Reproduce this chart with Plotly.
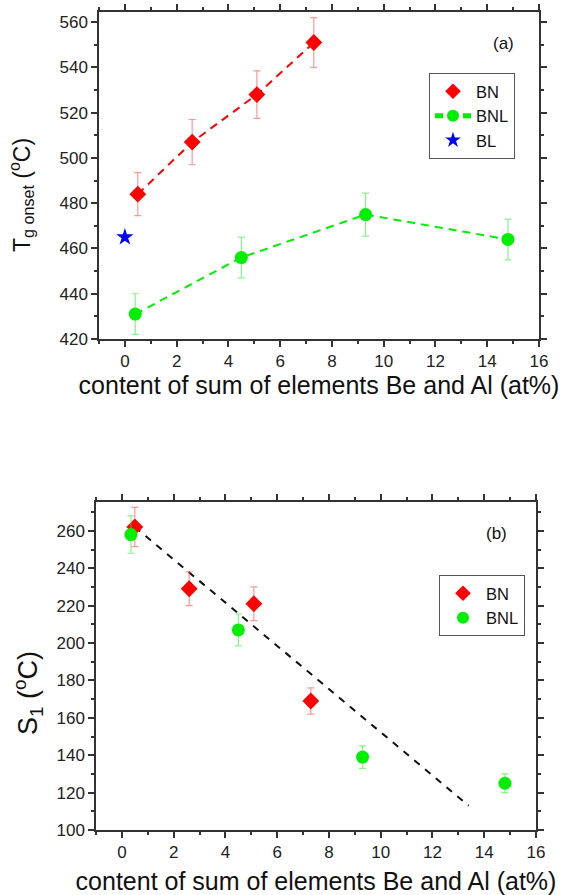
import plotly.graph_objects as go

# ---------------- data ----------------
# panel (a): Tg onset
x_bn_a = [0.5, 2.6, 5.1, 7.3]
y_bn_a = [484, 507, 528, 551]
e_bn_a = [9.5, 10, 10.5, 11]

x_bnl_a = [0.4, 4.5, 9.3, 14.8]
y_bnl_a = [431, 456, 475, 464]
e_bnl_a = [9, 9, 9.5, 9]

x_bl_a = [0]
y_bl_a = [465]

# panel (b): S1
x_bn_b = [0.5, 2.6, 5.1, 7.3]
y_bn_b = [262, 229, 221, 169]
e_bn_b = [10.5, 9, 9, 7]

x_bnl_b = [0.35, 4.5, 9.3, 14.8]
y_bnl_b = [258, 207, 139, 125]
e_bnl_b = [10, 8.5, 6, 5]

fit_x_b = [0.5, 13.4]
fit_y_b = [262, 113]

x_title = "content of sum of elements Be and Al (at%)"
y_title_a = "T<sub>g onset</sub> (<sup>o</sup>C)"
y_title_b = "S<sub>1</sub> (<sup>o</sup>C)"

# ---------------- style ----------------
FONT = "Liberation Sans, Arial, sans-serif"
RED = "#ff0000"
GREEN = "#00ee00"
BLUE = "#0000ff"
RED_ERR = "rgba(255,80,80,0.6)"
GREEN_ERR = "rgba(60,235,60,0.6)"
AX = "#333333"
TXT = "#111111"

fig = go.Figure()

# ---- panel (a)
fig.add_trace(go.Scatter(x=x_bn_a, y=y_bn_a, mode="lines", showlegend=False,
                         line=dict(color=RED, width=2, dash="8px,6px"),
                         xaxis="x", yaxis="y", hoverinfo="skip"))
fig.add_trace(go.Scatter(x=x_bn_a, y=y_bn_a, mode="markers", name="BN",
                         marker=dict(symbol="diamond", size=13, color=RED),
                         error_y=dict(type="data", array=e_bn_a, color=RED_ERR,
                                      thickness=1.2, width=3.5),
                         xaxis="x", yaxis="y", legend="legend"))
fig.add_trace(go.Scatter(x=x_bnl_a, y=y_bnl_a, mode="lines+markers", name="BNL",
                         line=dict(color=GREEN, width=2, dash="8px,6px"),
                         marker=dict(symbol="circle", size=13, color=GREEN),
                         error_y=dict(type="data", array=e_bnl_a, color=GREEN_ERR,
                                      thickness=1.2, width=3.5),
                         xaxis="x", yaxis="y", legend="legend"))
fig.add_trace(go.Scatter(x=x_bl_a, y=y_bl_a, mode="markers", name="BL",
                         marker=dict(symbol="star", size=13, color=BLUE),
                         xaxis="x", yaxis="y", legend="legend"))

# ---- panel (b)
fig.add_trace(go.Scatter(x=fit_x_b, y=fit_y_b, mode="lines", showlegend=False,
                         line=dict(color="#111111", width=2, dash="7px,7px"),
                         xaxis="x2", yaxis="y2", hoverinfo="skip"))
fig.add_trace(go.Scatter(x=x_bn_b, y=y_bn_b, mode="markers", name="BN",
                         marker=dict(symbol="diamond", size=13, color=RED),
                         error_y=dict(type="data", array=e_bn_b, color=RED_ERR,
                                      thickness=1.2, width=3.5),
                         xaxis="x2", yaxis="y2", legend="legend2"))
fig.add_trace(go.Scatter(x=x_bnl_b, y=y_bnl_b, mode="markers", name="BNL",
                         marker=dict(symbol="circle", size=13, color=GREEN),
                         error_y=dict(type="data", array=e_bnl_b, color=GREEN_ERR,
                                      thickness=1.2, width=3.5),
                         xaxis="x2", yaxis="y2", legend="legend2"))

W, H = 566, 895
dom_x_a = [99 / W, 539 / W]
dom_y_a = [1 - 339 / H, 1 - 12 / H]
dom_x_b = [96 / W, 536 / W]
dom_y_b = [1 - 830 / H, 1 - 502 / H]

tickfont = dict(family=FONT, size=17, color="#222222")


def base_x(domain, anchor, title, standoff):
    return dict(domain=domain, anchor=anchor, range=[-1, 16], dtick=2, tick0=0,
                ticks="outside", ticklen=6, tickwidth=1.5, tickcolor=AX,
                minor=dict(dtick=1, tick0=0, ticks="outside", ticklen=3, tickwidth=1.5, tickcolor=AX),
                showline=True, linecolor=AX, linewidth=1.5, mirror="ticks",
                showgrid=False, zeroline=False, tickfont=tickfont, automargin=False,
                title=dict(text=title, font=dict(family=FONT, size=25, color=TXT), standoff=standoff))


def base_y(domain, anchor, rng):
    return dict(domain=domain, anchor=anchor, range=rng, dtick=20, tick0=0,
                ticks="outside", ticklen=6, tickwidth=1.5, tickcolor=AX,
                minor=dict(dtick=10, tick0=0, ticks="outside", ticklen=3, tickwidth=1.5, tickcolor=AX),
                showline=True, linecolor=AX, linewidth=1.5, mirror="ticks",
                showgrid=False, zeroline=False, tickfont=tickfont, automargin=False)


def over_x(base, anchor):
    return dict(overlaying=base, anchor=anchor, side="top", range=[-1, 16], dtick=2, tick0=0,
                ticks="inside", ticklen=6, tickwidth=1.5, tickcolor=AX,
                minor=dict(dtick=1, tick0=0, ticks="inside", ticklen=3, tickwidth=1.5, tickcolor=AX),
                showticklabels=False, showline=False, showgrid=False, zeroline=False, automargin=False)


def over_y(base, anchor, rng):
    return dict(overlaying=base, anchor=anchor, side="right", range=rng, dtick=20, tick0=0,
                ticks="inside", ticklen=6, tickwidth=1.5, tickcolor=AX,
                minor=dict(dtick=10, tick0=0, ticks="inside", ticklen=3, tickwidth=1.5, tickcolor=AX),
                showticklabels=False, showline=False, showgrid=False, zeroline=False, automargin=False)


rng_a = [420, 564.5]
rng_b = [100, 275.4]

fig.update_layout(
    width=W, height=H, template="none",
    margin=dict(l=0, r=0, t=0, b=0),
    paper_bgcolor="white", plot_bgcolor="white",
    font=dict(family=FONT, size=16, color=TXT),
    xaxis=base_x(dom_x_a, "y", x_title, 6),
    yaxis=base_y(dom_y_a, "x", rng_a),
    xaxis2=base_x(dom_x_b, "y2", x_title, 14),
    yaxis2=base_y(dom_y_b, "x2", rng_b),
    xaxis3=over_x("x", "y"),
    yaxis3=over_y("y", "x", rng_a),
    xaxis4=over_x("x2", "y2"),
    yaxis4=over_y("y2", "x2", rng_b),
    legend=dict(x=429 / W, y=1 - 73 / H, xanchor="left", yanchor="top",
                bgcolor="white", bordercolor="#555555", borderwidth=1,
                font=dict(family=FONT, size=16.5, color=TXT), itemsizing="constant",
                itemwidth=36),
    legend2=dict(x=439 / W, y=1 - 575 / H, xanchor="left", yanchor="top",
                 bgcolor="white", bordercolor="#555555", borderwidth=1,
                 font=dict(family=FONT, size=16.5, color=TXT), itemsizing="constant",
                 itemwidth=36),
    annotations=[
        dict(text=y_title_a, x=21 / W, y=1 - 195 / H, xref="paper", yref="paper",
             xanchor="center", yanchor="middle", textangle=-90, showarrow=False,
             font=dict(family=FONT, size=23, color=TXT)),
        dict(text=y_title_b, x=28 / W, y=1 - 693 / H, xref="paper", yref="paper",
             xanchor="center", yanchor="middle", textangle=-90, showarrow=False,
             font=dict(family=FONT, size=27, color=TXT)),
        dict(text="(a)", x=503 / W, y=1 - 43 / H, xref="paper", yref="paper",
             xanchor="center", yanchor="middle", showarrow=False,
             font=dict(family=FONT, size=17, color=TXT)),
        dict(text="(b)", x=496 / W, y=1 - 533 / H, xref="paper", yref="paper",
             xanchor="center", yanchor="middle", showarrow=False,
             font=dict(family=FONT, size=17, color=TXT)),
    ],
)

fig.write_html("out.html")
